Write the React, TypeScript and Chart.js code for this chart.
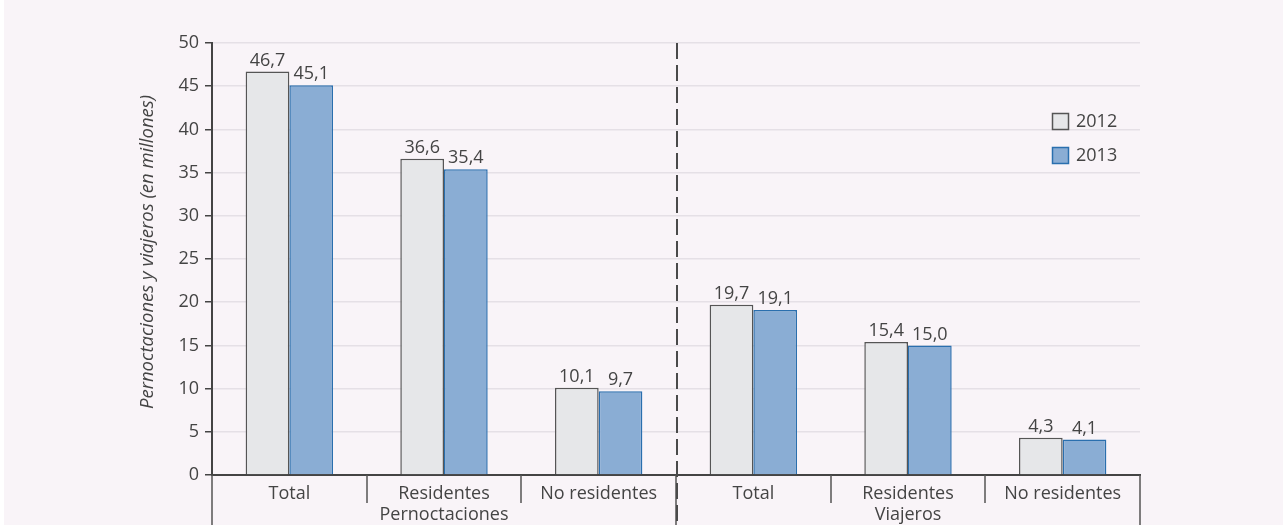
import React, { useEffect, useRef } from "react";
import { Chart, registerables } from "chart.js";

Chart.register(...registerables);

const categories: (string | string[])[] = [
  "Total",
  ["Residentes", "Pernoctaciones"],
  "No residentes",
  "Total",
  ["Residentes", "Viajeros"],
  "No residentes",
];
const series2012 = [46.7, 36.6, 10.1, 19.7, 15.4, 4.3];
const series2013 = [45.1, 35.4, 9.7, 19.1, 15.0, 4.1];
const seriesNames = ["2012", "2013"];
const yTitle = "Pernoctaciones y viajeros (en millones)";

const FONT = "'Open Sans', 'Noto Sans', sans-serif";
const TEXT = "#444444";
const BG = "#f9f4f8";
const FILLS = ["#e6e7e9", "#8aadd4"];
const BORDERS = ["#555555", "#2a6fae"];

const fmt = (v: number) => v.toFixed(1).replace(".", ",");

const decorPlugin = {
  id: "decor",
  beforeDraw(chart: any) {
    const ctx = chart.ctx;
    ctx.save();
    ctx.fillStyle = BG;
    ctx.fillRect(4, 0, chart.width - 4, chart.height);
    ctx.restore();
  },
  afterDraw(chart: any) {
    const ctx = chart.ctx;
    const area = chart.chartArea;
    const n = categories.length;
    const cw = (area.right - area.left) / n;
    ctx.save();
    // separators below axis
    ctx.strokeStyle = "#555555";
    ctx.lineWidth = 1.5;
    for (let i = 0; i <= n; i++) {
      const x = Math.round(area.left + i * cw);
      const long = i === 0 || i === n || i === n / 2;
      ctx.beginPath();
      ctx.moveTo(x, area.bottom);
      ctx.lineTo(x, long ? chart.height : area.bottom + 28);
      ctx.stroke();
    }
    // dashed divider
    const xm = Math.round(area.left + (n / 2) * cw) + 1;
    ctx.strokeStyle = "#4a4a4a";
    ctx.lineWidth = 2;
    ctx.setLineDash([16, 6]);
    ctx.beginPath();
    ctx.moveTo(xm, area.top);
    ctx.lineTo(xm, chart.height);
    ctx.stroke();
    ctx.setLineDash([]);

    // value labels
    ctx.font = `18px ${FONT}`;
    ctx.fillStyle = TEXT;
    ctx.textAlign = "center";
    ctx.textBaseline = "bottom";
    chart.data.datasets.forEach((ds: any, di: number) => {
      const meta = chart.getDatasetMeta(di);
      meta.data.forEach((bar: any, i: number) => {
        ctx.fillText(fmt(ds.data[i]), bar.x, bar.y - 2);
      });
    });

    // legend
    const lx = 1052;
    const ly = [113, 147];
    ctx.textAlign = "left";
    ctx.textBaseline = "middle";
    seriesNames.forEach((name, i) => {
      ctx.fillStyle = FILLS[i];
      ctx.fillRect(lx, ly[i], 17, 17);
      ctx.strokeStyle = BORDERS[i];
      ctx.lineWidth = 1.5;
      ctx.strokeRect(lx + 0.5, ly[i] + 0.5, 16, 16);
      ctx.fillStyle = TEXT;
      ctx.fillText(name, lx + 24, ly[i] + 9);
    });

    // y title
    ctx.translate(148, 252);
    ctx.rotate(-Math.PI / 2);
    ctx.font = `italic 18.5px ${FONT}`;
    ctx.textAlign = "center";
    ctx.textBaseline = "middle";
    ctx.fillStyle = TEXT;
    ctx.fillText(yTitle, 0, 0);
    ctx.restore();
  },
};

export default function App() {
  const ref = useRef<HTMLCanvasElement | null>(null);
  useEffect(() => {
    if (!ref.current) return;
    const chart = new Chart(ref.current, {
      type: "bar",
      data: {
        labels: categories,
        datasets: [
          {
            label: seriesNames[0],
            data: series2012,
            backgroundColor: FILLS[0],
            borderColor: BORDERS[0],
            borderWidth: 1.5,
            categoryPercentage: 0.565,
            barPercentage: 1,
          },
          {
            label: seriesNames[1],
            data: series2013,
            backgroundColor: FILLS[1],
            borderColor: BORDERS[1],
            borderWidth: 1.5,
            categoryPercentage: 0.565,
            barPercentage: 1,
          },
        ],
      },
      options: {
        animation: false,
        responsive: false,
        maintainAspectRatio: false,
        layout: { padding: { left: 0, right: 143, top: 43, bottom: 0 } },
        plugins: { legend: { display: false }, tooltip: { enabled: false } },
        scales: {
          x: {
            grid: { display: false, drawTicks: false },
            border: { color: "#444444", width: 2 },
            ticks: {
              font: { family: FONT, size: 18, lineHeight: 1.17 },
              color: TEXT,
              padding: 8,
              maxRotation: 0,
              autoSkip: false,
            },
            afterFit: (s: any) => {
              s.height = 50;
            },
          },
          y: {
            min: 0,
            max: 50,
            ticks: {
              stepSize: 5,
              font: { family: FONT, size: 18 },
              color: TEXT,
              padding: 6,
            },
            grid: {
              color: "#e5e0e6",
              lineWidth: 1.5,
              tickColor: "#444444",
              tickLength: 7,
            },
            border: { color: "#444444", width: 2 },
            afterFit: (s: any) => {
              s.width = 212;
            },
          },
        },
      },
      plugins: [decorPlugin],
    });
    return () => chart.destroy();
  }, []);
  return (
    <div style={{ position: "fixed", left: 0, top: 0, width: 1283, height: 525, background: "#ffffff" }}>
      <canvas ref={ref} width={1283} height={525} style={{ display: "block", width: 1283, height: 525 }} />
    </div>
  );
}
